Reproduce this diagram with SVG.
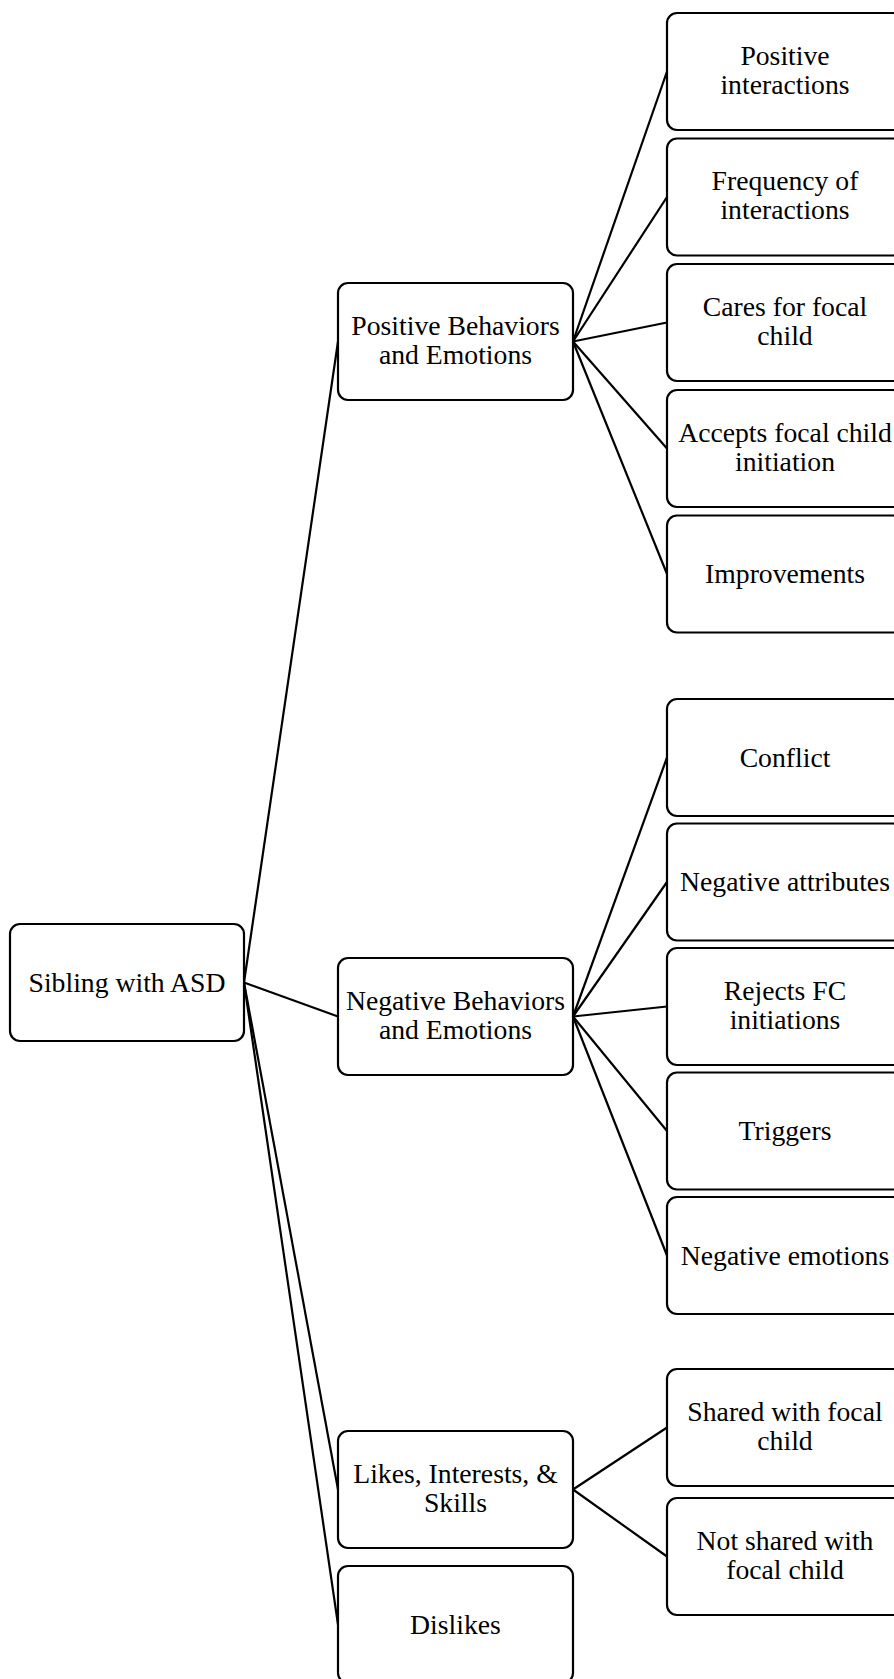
<svg xmlns="http://www.w3.org/2000/svg" width="894" height="1679" viewBox="0 0 894 1679">
<style>
rect.n{fill:#fff;stroke:#000;stroke-width:2.2}
text{font-family:"Liberation Serif","Times New Roman",serif;font-size:27.7px;fill:#000;text-anchor:middle}
#connectors line{stroke:#000;stroke-width:2.2}
</style>
<rect width="894" height="1679" fill="#fff"/>
<g id="connectors">
<line x1="244" y1="982.5" x2="338" y2="341.5"/>
<line x1="244" y1="982.5" x2="338" y2="1016.5"/>
<line x1="244" y1="982.5" x2="338" y2="1489.5"/>
<line x1="244" y1="982.5" x2="338" y2="1624.5"/>
<line x1="573" y1="341.5" x2="667" y2="71.5"/>
<line x1="573" y1="341.5" x2="667" y2="197"/>
<line x1="573" y1="341.5" x2="667" y2="322.5"/>
<line x1="573" y1="341.5" x2="667" y2="448.5"/>
<line x1="573" y1="341.5" x2="667" y2="574"/>
<line x1="573" y1="1016.5" x2="667" y2="757.5"/>
<line x1="573" y1="1016.5" x2="667" y2="882"/>
<line x1="573" y1="1016.5" x2="667" y2="1006.5"/>
<line x1="573" y1="1016.5" x2="667" y2="1131"/>
<line x1="573" y1="1016.5" x2="667" y2="1255.5"/>
<line x1="573" y1="1489.5" x2="667" y2="1427.5"/>
<line x1="573" y1="1489.5" x2="667" y2="1556.5"/>
</g>
<g id="sibling"><rect class="n" x="10" y="924" width="234" height="117" rx="10"/><text x="127" y="991.5">Sibling with ASD</text></g>
<g id="positive"><rect class="n" x="338" y="283" width="235" height="117" rx="10"/><text x="455.5" y="334.5">Positive Behaviors</text><text x="455.5" y="363.5">and Emotions</text></g>
<g id="negative"><rect class="n" x="338" y="958" width="235" height="117" rx="10"/><text x="455.5" y="1009.5">Negative Behaviors</text><text x="455.5" y="1038.5">and Emotions</text></g>
<g id="likes"><rect class="n" x="338" y="1431" width="235" height="117" rx="10"/><text x="455.5" y="1482.5">Likes, Interests, &amp;</text><text x="455.5" y="1511.5">Skills</text></g>
<g id="dislikes"><rect class="n" x="338" y="1566" width="235" height="117" rx="10"/><text x="455.5" y="1633.5">Dislikes</text></g>
<g id="pos-interactions"><rect class="n" x="667" y="13" width="236" height="117" rx="10"/><text x="785" y="64.5">Positive</text><text x="785" y="93.5">interactions</text></g>
<g id="frequency"><rect class="n" x="667" y="138.5" width="236" height="117" rx="10"/><text x="785" y="190">Frequency of</text><text x="785" y="219">interactions</text></g>
<g id="cares"><rect class="n" x="667" y="264" width="236" height="117" rx="10"/><text x="785" y="315.5">Cares for focal</text><text x="785" y="344.5">child</text></g>
<g id="accepts"><rect class="n" x="667" y="390" width="236" height="117" rx="10"/><text x="785" y="441.5">Accepts focal child</text><text x="785" y="470.5">initiation</text></g>
<g id="improvements"><rect class="n" x="667" y="515.5" width="236" height="117" rx="10"/><text x="785" y="583">Improvements</text></g>
<g id="conflict"><rect class="n" x="667" y="699" width="236" height="117" rx="10"/><text x="785" y="766.5">Conflict</text></g>
<g id="neg-attributes"><rect class="n" x="667" y="823.5" width="236" height="117" rx="10"/><text x="785" y="891">Negative attributes</text></g>
<g id="rejects"><rect class="n" x="667" y="948" width="236" height="117" rx="10"/><text x="785" y="999.5">Rejects FC</text><text x="785" y="1028.5">initiations</text></g>
<g id="triggers"><rect class="n" x="667" y="1072.5" width="236" height="117" rx="10"/><text x="785" y="1140">Triggers</text></g>
<g id="neg-emotions"><rect class="n" x="667" y="1197" width="236" height="117" rx="10"/><text x="785" y="1264.5">Negative emotions</text></g>
<g id="shared"><rect class="n" x="667" y="1369" width="236" height="117" rx="10"/><text x="785" y="1420.5">Shared with focal</text><text x="785" y="1449.5">child</text></g>
<g id="not-shared"><rect class="n" x="667" y="1498" width="236" height="117" rx="10"/><text x="785" y="1549.5">Not shared with</text><text x="785" y="1578.5">focal child</text></g>
</svg>
